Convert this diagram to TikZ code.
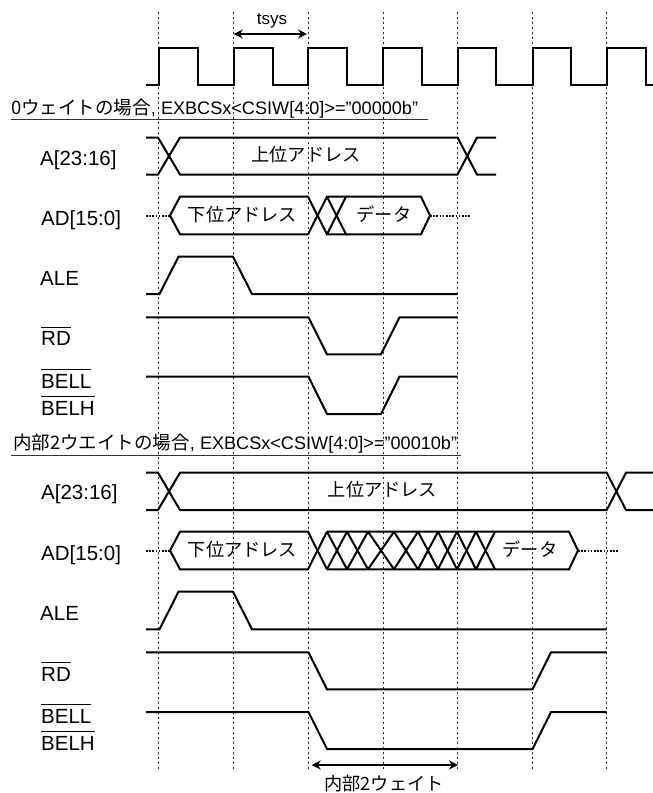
\documentclass[tikz,border=0pt]{standalone}
\usepackage{fontspec}
\setmainfont{Liberation Sans}
\newfontfamily\jpf{Noto Sans CJK JP}[Scale=1]
\usetikzlibrary{arrows.meta}
\newcommand{\ovl}[1]{\vbox{\hrule height 1pt\kern 4pt\hbox{#1}}}
\newcommand{\jt}[1]{{\fontsize{18.5}{20}\selectfont\jpf #1}}
\tikzset{
 guide/.style={line width=0.9pt,dash pattern=on 2.2pt off 2.8pt,black!85},
 sig/.style={line width=2pt,line join=miter,line cap=butt},
 dots/.style={line width=2pt,dash pattern=on 1.6pt off 1.6pt},
 span/.style={line width=1.5pt,{Stealth[length=9pt,width=9pt]}-{Stealth[length=9pt,width=9pt]}},
 rule/.style={line width=1pt,black!80},
 lab/.style={font=\fontsize{20.5}{22}\selectfont,anchor=base west,inner sep=0pt},
 ttl/.style={font=\fontsize{18.1}{20}\selectfont,anchor=west,inner sep=0pt},
 cj/.style={font=\fontsize{18.2}{20}\selectfont\jpf,inner sep=0pt},
}
\begin{document}
\begin{tikzpicture}[x=1pt,y=-1pt]
\useasboundingbox (0,0) rectangle (653,793);
\foreach \i/\x in {a/158.7,b/233.7,c/308,d/383,e/457.5,f/532.5,g/606.7}{
  \coordinate (t\i) at (\x,12);
  \coordinate (b\i) at (\x,770);
  \draw[guide] (t\i) -- (b\i);
}
% clock
\draw[sig] (146,85)--(158.7,85)--(158.7,48)--(198,48)--(198,85)--(233.7,85)--(233.7,48)--(273,48)--(273,85)--(308,85)--(308,48)--(347,48)--(347,85)--(383,85)--(383,48)--(421.7,48)--(421.7,85)--(457.5,85)--(457.5,48)--(496,48)--(496,85)--(532.5,85)--(532.5,48)--(571,48)--(571,85)--(606.7,85)--(606.7,48)--(646,48)--(646,85)--(653,85);
\coordinate (s1) at (233.7,34); \coordinate (s2) at (307,34);
\draw[span] (s1) -- (s2);
\node[inner sep=0pt,font=\fontsize{17}{18}\selectfont] (tsys) at (272,21) {tsys};
% section 1
\node[ttl] (t1) at (11,109) {\jt{0ウェイトの場合}, EXBCSx<CSIW[4:0]>="00000b"};
\coordinate (u1a) at (11,119.5); \coordinate (u1b) at (428,119.5);
\draw[rule] (u1a) -- (u1b);
\node[lab] (l1) at (40,165.5) {A[23:16]};
\draw[sig] (146,137.5)--(158,137.5)--(180,174.5)--(457.5,174.5)--(477,137.5)--(496,137.5);
\draw[sig] (146,174.5)--(158,174.5)--(180,137.5)--(457.5,137.5)--(477,174.5)--(496,174.5);
\node[cj] (n1) at (306,155) {上位アドレス};
\node[lab] (l2) at (41,225.5) {AD[15:0]};
\draw[dots] (146,215.5)--(170,215.5);
\draw[sig] (170,215.5)--(180,196.7)--(308,196.7)--(327,234.3)--(346,234.3)--(327,196.7);
\draw[sig] (170,215.5)--(180,234.3)--(308,234.3)--(327,196.7)--(346,196.7)--(327,234.3);
\draw[sig] (346,196.7)--(421,196.7)--(430,215.5)--(421,234.3)--(346,234.3);
\draw[dots] (430,215.5)--(470,215.5);
\node[cj] (n2) at (242.5,214.5) {下位アドレス};
\node[cj] (n3) at (384,214.5) {データ};
\node[lab] (l3) at (40,285) {ALE};
\draw[sig] (146,294)--(159.5,294)--(178.5,256.7)--(233,256.7)--(252,294)--(457.5,294);
\draw[sig] (146,317.3)--(308.5,317.3)--(327,354.3)--(381,354.3)--(399.5,317.3)--(457.5,317.3);
\node[lab] (l4) at (41,345.7) {\ovl{RD}};
\draw[sig] (146,376.7)--(308.5,376.7)--(327,414)--(381,414)--(399.5,376.7)--(457.5,376.7);
\node[lab] (l5) at (41,388) {\ovl{BELL}};
\node[lab] (l6) at (41,415) {\ovl{BELH}};
% section 2
\node[ttl] (t2) at (13,444) {\jt{内部2ウエイトの場合}, EXBCSx<CSIW[4:0]>="00010b"};
\coordinate (u2a) at (11,455.7); \coordinate (u2b) at (461,455.7);
\draw[rule] (u2a) -- (u2b);
\node[lab] (l7) at (41,499.5) {A[23:16]};
\draw[sig] (146,472.7)--(158,472.7)--(180,510)--(606.7,510)--(626,472.7)--(653,472.7);
\draw[sig] (146,510)--(158,510)--(180,472.7)--(606.7,472.7)--(626,510)--(653,510);
\node[cj] (n4) at (382.5,490) {上位アドレス};
\node[lab] (l8) at (41,560) {AD[15:0]};
\draw[dots] (146,550.5)--(170,550.5);
\draw[sig] (170,550.5)--(180,531.7)--(308,531.7)--(327,569.3);
\draw[sig] (170,550.5)--(180,569.3)--(308,569.3)--(327,531.7);
\draw[sig] (327,531.7)--(569,531.7)--(578,550.5)--(569,569.3)--(327,569.3);
\foreach \p/\q in {327/347,347/368,368/394,394/418,418/438,438/457,457/476,476/495}{
  \draw[sig] (\p,531.7)--(\q,569.3);
  \draw[sig] (\q,531.7)--(\p,569.3);
}
\draw[dots] (578,550.5)--(619,550.5);
\node[cj] (n5) at (242.5,549.5) {下位アドレス};
\node[cj] (n6) at (530,549.5) {データ};
\node[lab] (l9) at (40,620) {ALE};
\draw[sig] (146,629.3)--(159.5,629.3)--(178.5,591.7)--(233,591.7)--(252,629.3)--(606.7,629.3);
\draw[sig] (146,652.3)--(308.5,652.3)--(327,689.3)--(532.5,689.3)--(551,652.3)--(606.7,652.3);
\node[lab] (l10) at (41,681) {\ovl{RD}};
\draw[sig] (146,712)--(308.5,712)--(327,749)--(532.5,749)--(551,712)--(606.7,712);
\node[lab] (l11) at (41,723) {\ovl{BELL}};
\node[lab] (l12) at (41,750) {\ovl{BELH}};
\coordinate (w1) at (311.7,765); \coordinate (w2) at (458,765);
\draw[span] (w1) -- (w2);
\node[cj] (n7) at (384,784) {内部2ウェイト};
\end{tikzpicture}
\end{document}
